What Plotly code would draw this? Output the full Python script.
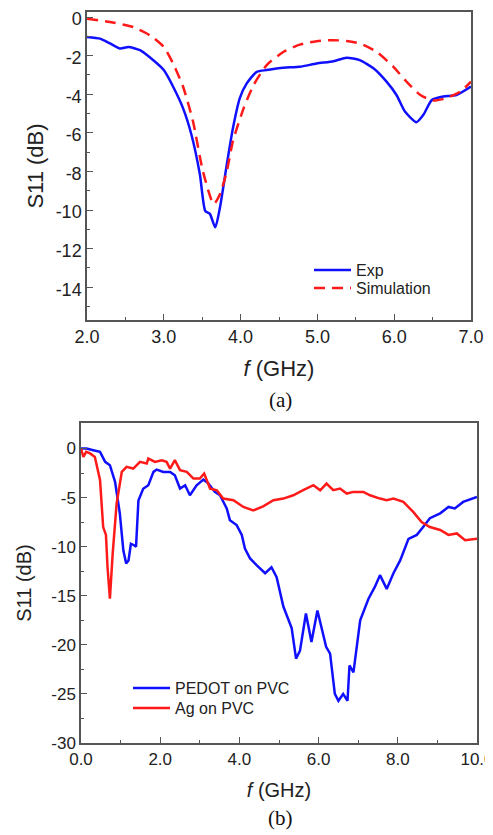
import plotly.graph_objects as go

# ---------- Panel (a) data ----------
exp_f = [2.0, 2.17, 2.3, 2.43, 2.54, 2.69, 2.86, 3.0, 3.12, 3.25, 3.36, 3.47, 3.54, 3.6, 3.67,
         3.73, 3.82, 3.9, 3.99, 4.08, 4.21, 4.34, 4.56, 4.77, 4.99, 5.21, 5.38, 5.55, 5.73,
         5.9, 6.03, 6.14, 6.29, 6.38, 6.49, 6.64, 6.81, 7.0]
exp_s11 = [-1.03, -1.12, -1.37, -1.63, -1.55, -1.72, -2.23, -2.75, -3.6, -4.72, -6.1, -8.16,
           -10.05, -10.2, -10.9, -9.9, -7.65, -5.76, -4.2, -3.44, -2.84, -2.75, -2.63, -2.58,
           -2.41, -2.29, -2.11, -2.23, -2.66, -3.35, -4.04, -4.9, -5.45, -5.07, -4.3, -4.12,
           -4.04, -3.6]

sim_f = [2.0, 2.3, 2.6, 2.82, 3.0, 3.12, 3.25, 3.38, 3.51, 3.65, 3.73, 3.82, 3.9, 4.04, 4.17,
         4.34, 4.56, 4.77, 4.99, 5.21, 5.38, 5.55, 5.77, 5.99, 6.16, 6.34, 6.51, 6.68, 6.86, 7.0]
sim_s11 = [-0.09, -0.26, -0.52, -0.95, -1.55, -2.4, -3.6, -5.4, -8.0, -9.7, -9.2, -8.0, -6.44,
           -4.72, -3.52, -2.49, -1.8, -1.43, -1.25, -1.2, -1.24, -1.37, -1.8, -2.58, -3.35,
           -4.04, -4.33, -4.2, -3.87, -3.35]

xa_ticks = [2, 3, 4, 5, 6, 7]
xa_labels = ["2.0", "3.0", "4.0", "5.0", "6.0", "7.0"]
ya_ticks = [0, -2, -4, -6, -8, -10, -12, -14]
ya_labels = ["0", "-2", "-4", "-6", "-8", "-10", "-12", "-14"]

# ---------- Panel (b) data ----------
pedot_f = [0.0, 0.14, 0.31, 0.48, 0.61, 0.73, 0.86, 0.98, 1.07, 1.14, 1.2, 1.26, 1.34, 1.39,
           1.45, 1.57, 1.7, 1.83, 1.91, 2.08, 2.25, 2.37, 2.5, 2.63, 2.75, 2.92, 3.09, 3.22,
           3.38, 3.51, 3.68, 3.76, 3.93, 4.06, 4.14, 4.27, 4.44, 4.65, 4.81, 4.94, 5.11, 5.24,
           5.32, 5.43, 5.53, 5.68, 5.82, 5.97, 6.08, 6.19, 6.29, 6.41, 6.5, 6.62, 6.73, 6.78,
           6.88, 7.05, 7.26, 7.42, 7.55, 7.72, 7.89, 8.06, 8.27, 8.48, 8.64, 8.81, 9.07, 9.28,
           9.44, 9.65, 10.0]
pedot_s11 = [0.0, 0.0, -0.17, -0.34, -1.36, -1.7, -3.4, -6.6, -10.4, -11.7, -11.4, -9.7, -9.85,
             -10.0, -5.3, -4.1, -3.74, -2.38, -2.14, -2.38, -2.38, -2.72, -4.08, -3.74, -4.76,
             -3.74, -3.16, -3.57, -4.42, -4.76, -6.1, -7.3, -7.8, -8.8, -10.2, -11.2, -11.9,
             -12.7, -12.1, -13.1, -16.1, -17.5, -18.3, -21.4, -20.6, -16.8, -19.7, -16.5,
             -18.5, -20.2, -20.9, -25.0, -25.7, -25.0, -25.7, -22.1, -22.8, -17.5, -15.3,
             -14.1, -12.9, -14.3, -12.7, -11.4, -9.2, -8.8, -8.0, -7.1, -6.6, -5.95, -6.1,
             -5.44, -4.93]

ag_f = [0.0, 0.06, 0.13, 0.23, 0.35, 0.48, 0.56, 0.63, 0.67, 0.73, 0.8, 0.9, 1.03, 1.15, 1.32,
        1.49, 1.66, 1.7, 1.87, 2.04, 2.16, 2.25, 2.37, 2.5, 2.67, 2.84, 3.0, 3.11, 3.26, 3.43,
        3.59, 3.85, 4.1, 4.35, 4.6, 4.86, 5.11, 5.36, 5.61, 5.87, 6.04, 6.2, 6.37, 6.54, 6.71,
        6.88, 7.13, 7.3, 7.55, 7.72, 7.89, 8.14, 8.39, 8.6, 8.81, 9.07, 9.28, 9.49, 9.7, 10.0]
ag_s11 = [0.0, -0.85, -0.34, -0.5, -0.85, -3.2, -8.0, -8.8, -12.1, -15.3, -10.7, -5.6, -2.38,
          -1.87, -2.04, -1.36, -1.53, -1.02, -1.36, -1.19, -1.36, -2.04, -1.19, -2.2, -2.38,
          -3.06, -3.06, -2.55, -4.08, -4.25, -5.1, -5.27, -5.95, -6.3, -5.9, -5.27, -5.1,
          -4.76, -4.25, -3.74, -4.25, -3.57, -4.25, -4.08, -4.59, -4.42, -4.42, -4.76, -5.1,
          -5.27, -5.1, -5.44, -6.46, -7.5, -8.0, -8.3, -8.8, -8.65, -9.35, -9.2]

xb_ticks = [0, 2, 4, 6, 8, 10]
xb_labels = ["0.0", "2.0", "4.0", "6.0", "8.0", "10.0"]
yb_ticks = [0, -5, -10, -15, -20, -25, -30]
yb_labels = ["0", "-5", "-10", "-15", "-20", "-25", "-30"]

BLUE = "#1010ff"
RED = "#ff1a1a"
FONT = "Liberation Sans, Arial, sans-serif"
SERIF = "Liberation Serif, Times New Roman, serif"
AXC = "#555555"
TXT = "#222222"

# page body has an 8px margin: the figure is sized to the window minus that offset
OFF = 8
W, H = 493 - OFF, 835 - OFF


def px(x):
    return (x - OFF) / W


def py(y):
    return 1 - (y - OFF) / H


fig = go.Figure()
fig.add_trace(go.Scatter(x=exp_f, y=exp_s11, mode="lines", name="Exp",
                         line=dict(color=BLUE, width=2.5, shape="spline", smoothing=0.6),
                         xaxis="x", yaxis="y", legend="legend"))
fig.add_trace(go.Scatter(x=sim_f, y=sim_s11, mode="lines", name="Simulation",
                         line=dict(color=RED, width=2.5, dash="11px,7px", shape="spline", smoothing=0.6),
                         xaxis="x", yaxis="y", legend="legend2"))
fig.add_trace(go.Scatter(x=pedot_f, y=pedot_s11, mode="lines", name="PEDOT on PVC",
                         line=dict(color=BLUE, width=2.5),
                         xaxis="x2", yaxis="y2", legend="legend3"))
fig.add_trace(go.Scatter(x=ag_f, y=ag_s11, mode="lines", name="Ag on PVC",
                         line=dict(color=RED, width=2.5),
                         xaxis="x2", yaxis="y2", legend="legend4"))


def ax(tsize, fsize, **kw):
    base = dict(showline=True, linecolor=AXC, linewidth=1.5, mirror=True, showgrid=False,
                zeroline=False, ticks="inside", ticklen=6, tickwidth=1.3, tickcolor=AXC,
                automargin=False, ticklabeloverflow="allow",
                tickfont=dict(family=FONT, size=tsize, color=TXT),
                title_font=dict(family=FONT, size=fsize, color=TXT))
    base.update(kw)
    return base


def leg(x, y):
    return dict(x=px(x), y=py(y), xanchor="left", yanchor="middle",
                bgcolor="rgba(0,0,0,0)", font=dict(family=FONT, size=16, color=TXT),
                tracegroupgap=0, itemwidth=37)


fig.update_layout(
    width=W, height=H,
    margin=dict(l=0, r=0, t=0, b=0),
    paper_bgcolor="white", plot_bgcolor="white",
    showlegend=True,
    xaxis=ax(18, 22, domain=[px(87), px(471)], range=[2, 7], tickvals=xa_ticks, ticktext=xa_labels,
             anchor="y", minor=dict(dtick=0.5, tick0=2, ticks="inside", ticklen=3, tickcolor=AXC),
             title=dict(text="<i>f</i> (GHz)", standoff=14)),
    yaxis=ax(18, 22, domain=[py(320), py(12)], range=[-15.7, 0.26], tickvals=ya_ticks, ticktext=ya_labels,
             anchor="x", ticklabelshift=2,
             minor=dict(dtick=1, tick0=0, ticks="inside", ticklen=3, tickcolor=AXC),
             title=dict(text="S11 (dB)", standoff=6)),
    xaxis2=ax(17, 20, domain=[px(81), px(477)], range=[0, 10], tickvals=xb_ticks, ticktext=xb_labels,
              anchor="y2", minor=dict(dtick=1, tick0=0, ticks="inside", ticklen=3, tickcolor=AXC),
              title=dict(text="<i>f</i> (GHz)", standoff=15)),
    yaxis2=ax(17, 20, domain=[py(743), py(423)], range=[-30, 2.6], tickvals=yb_ticks, ticktext=yb_labels,
              anchor="x2", minor=dict(dtick=2.5, tick0=0, ticks="inside", ticklen=3, tickcolor=AXC),
              title=dict(text="S11 (dB)", standoff=14)),
    legend=leg(309, 270),
    legend2=leg(309, 288),
    legend3=leg(128, 688),
    legend4=leg(128, 708),
    annotations=[
        dict(text="(a)", x=px(280), y=py(400), xref="paper", yref="paper",
             xanchor="center", yanchor="middle",
             showarrow=False, font=dict(family=SERIF, size=21, color="#111")),
        dict(text="(b)", x=px(280), y=py(818), xref="paper", yref="paper",
             xanchor="center", yanchor="middle",
             showarrow=False, font=dict(family=SERIF, size=21, color="#111")),
    ],
)

fig.write_html("out.html")
